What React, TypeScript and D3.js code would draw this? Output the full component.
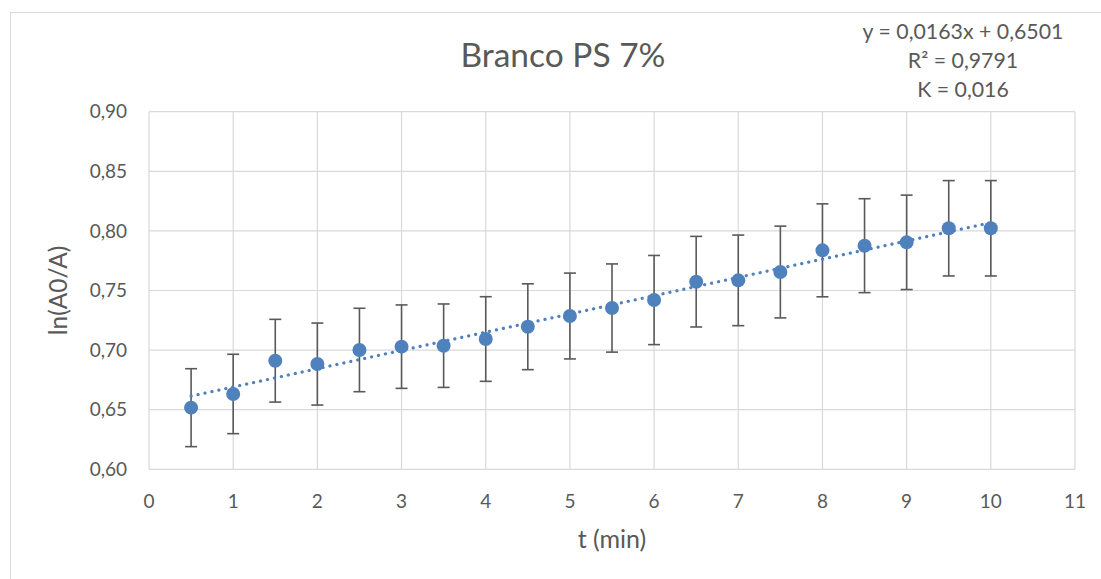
import * as d3 from "d3";

// t (min)
const times = [0.5, 1, 1.5, 2, 2.5, 3, 3.5, 4, 4.5, 5, 5.5, 6, 6.5, 7, 7.5, 8, 8.5, 9, 9.5, 10];
// ln(A0/A)
const values = [
  0.6517, 0.6632, 0.6911, 0.6883, 0.7001, 0.7029, 0.7037, 0.7093, 0.7196, 0.7286,
  0.7353, 0.742, 0.7574, 0.7585, 0.7655, 0.7837, 0.7876, 0.7904, 0.8022, 0.8022,
];
const errors = [
  0.0327, 0.0333, 0.0347, 0.0344, 0.035, 0.035, 0.035, 0.0355, 0.036, 0.036,
  0.037, 0.0374, 0.038, 0.038, 0.0385, 0.039, 0.0394, 0.0396, 0.04, 0.04,
];
const xTicks = [0, 1, 2, 3, 4, 5, 6, 7, 8, 9, 10, 11];
const yTicks = [0.6, 0.65, 0.7, 0.75, 0.8, 0.85, 0.9];
const eqLines = ["y = 0,0163x + 0,6501", "R² = 0,9791", "K = 0,016"];

const W = 1101;
const H = 579;
const FONT = "Lato, 'Open Sans', sans-serif";
const TEXT = "#595959";
const GRID = "#d9d9d9";
const BLUE = "#4f81bd";

// least-squares fit of the plotted points (linear trendline)
function fit(xs: number[], ys: number[]) {
  const mx = d3.mean(xs) as number;
  const my = d3.mean(ys) as number;
  const sxy = d3.sum(xs, (v, i) => (v - mx) * (ys[i] - my));
  const sxx = d3.sum(xs, (v) => (v - mx) * (v - mx));
  const b = sxy / sxx;
  return { b, a: my - b * mx };
}

export default function App() {
  const x = d3.scaleLinear().domain([0, 11]).range([149, 1075]);
  const y = d3.scaleLinear().domain([0.6, 0.9]).range([469.3, 111.7]);
  const fmt = (v: number) => d3.format(".2f")(v).replace(".", ",");

  const { a, b } = fit(times, values);
  const trend = d3
    .line<number>()
    .x((t) => x(t))
    .y((t) => y(b * t + a));
  const tr = d3.extent(times) as [number, number];

  return (
    <svg
      width={W}
      height={H}
      style={{ position: "absolute", left: 0, top: 0, background: "#fff" }}
      fontFamily={FONT}
    >
      <rect x={10.5} y={12.5} width={W + 20} height={H + 20} fill="#fff" stroke={GRID} />

      {/* grid */}
      {yTicks.map((v) => (
        <line key={"gy" + v} x1={x(0)} x2={x(11)} y1={y(v)} y2={y(v)} stroke={GRID} strokeWidth={1.2} />
      ))}
      {xTicks.map((v) => (
        <line key={"gx" + v} x1={x(v)} x2={x(v)} y1={y(0.6)} y2={y(0.9)} stroke={GRID} strokeWidth={1.2} />
      ))}

      {/* tick labels */}
      {yTicks.map((v) => (
        <text key={"ty" + v} x={127} y={y(v)} dy="0.35em" textAnchor="end" fontSize={19} fill={TEXT}>
          {fmt(v)}
        </text>
      ))}
      {xTicks.map((v) => (
        <text key={"tx" + v} x={x(v)} y={508} textAnchor="middle" fontSize={19} fill={TEXT}>
          {v}
        </text>
      ))}

      {/* axis titles */}
      <text x={x(5.5)} y={548} textAnchor="middle" fontSize={25} fill={TEXT}>
        t (min)
      </text>
      <text
        transform={`translate(67, ${(y(0.6) + y(0.9)) / 2}) rotate(-90)`}
        textAnchor="middle"
        fontSize={24.5}
        fill={TEXT}
      >
        ln(A0/A)
      </text>

      {/* title */}
      <text x={563} y={67} textAnchor="middle" fontSize={33.5} fill={TEXT}>
        Branco PS 7%
      </text>

      {/* equation */}
      {eqLines.map((s, i) => (
        <text key={s} x={963} y={39 + i * 29} textAnchor="middle" fontSize={21.3} fill={TEXT}>
          {s}
        </text>
      ))}

      {/* error bars */}
      {times.map((t, i) => {
        const cx = x(t);
        const y1 = y(values[i] + errors[i]);
        const y2 = y(values[i] - errors[i]);
        return (
          <g key={"e" + t} stroke="#595959" strokeWidth={1.6}>
            <line x1={cx} x2={cx} y1={y1} y2={y2} />
            <line x1={cx - 6} x2={cx + 6} y1={y1} y2={y1} />
            <line x1={cx - 6} x2={cx + 6} y1={y2} y2={y2} />
          </g>
        );
      })}

      {/* points */}
      {times.map((t, i) => (
        <circle key={"p" + t} cx={x(t)} cy={y(values[i])} r={7} fill={BLUE} />
      ))}

      {/* trendline */}
      <path
        d={trend(tr) || ""}
        fill="none"
        stroke={BLUE}
        strokeWidth={3.2}
        strokeDasharray="0.1 7"
        strokeLinecap="round"
      />
    </svg>
  );
}
